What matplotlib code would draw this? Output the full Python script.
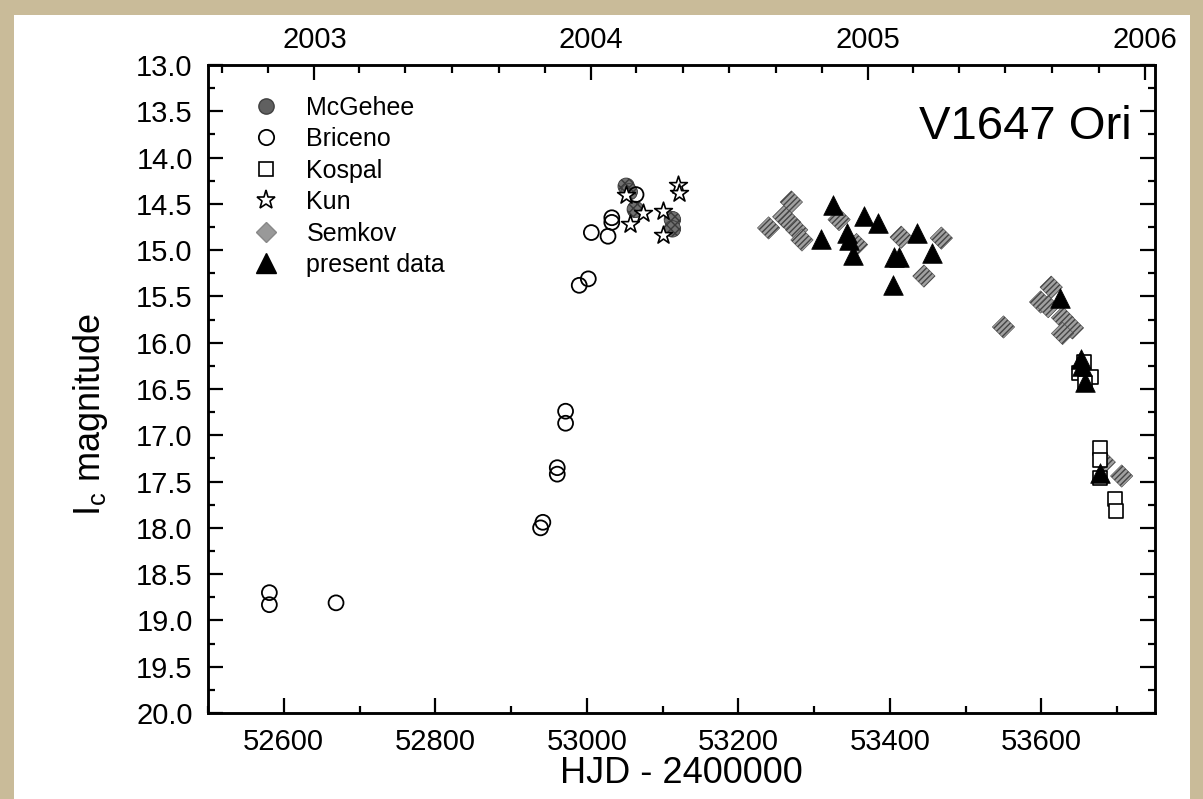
import matplotlib
matplotlib.use("Agg")
import matplotlib.pyplot as plt
from matplotlib.patches import Rectangle
from matplotlib.lines import Line2D
from datetime import date

plt.rcParams['font.family'] = ['Liberation Sans', 'DejaVu Sans']
plt.rcParams['hatch.linewidth'] = 1.0

# HJD - 2400000, I_c magnitude
mcgehee_t = [53052, 53056, 53064, 53113, 53113]
mcgehee_m = [14.31, 14.37, 14.56, 14.67, 14.77]

briceno_t = [52581, 52581, 52669, 52939, 52942, 52961, 52961, 52972, 52972,
             52990, 53002, 53006, 53028, 53033, 53033, 53065]
briceno_m = [18.70, 18.83, 18.81, 18.00, 17.94, 17.35, 17.42, 16.74, 16.87,
             15.38, 15.31, 14.81, 14.85, 14.65, 14.70, 14.40]

kospal_t = [53656, 53650, 53666, 53658, 53677, 53678, 53678, 53697, 53698]
kospal_m = [16.21, 16.33, 16.37, 16.44, 17.14, 17.27, 17.46, 17.69, 17.82]

kun_t = [53052, 53074, 53057, 53101, 53100, 53121, 53122]
kun_m = [14.40, 14.60, 14.72, 14.58, 14.84, 14.30, 14.38]

semkov_t = [53240, 53270, 53260, 53268, 53277, 53284, 53333, 53356, 53415,
            53468, 53445, 53550, 53613, 53599, 53609, 53628, 53641, 53628,
            53683, 53706]
semkov_m = [14.76, 14.48, 14.64, 14.70, 14.78, 14.89, 14.67, 14.94, 14.86,
            14.87, 15.28, 15.83, 15.40, 15.56, 15.61, 15.73, 15.84, 15.90,
            17.29, 17.44]

present_t = [53325, 53309, 53366, 53385, 53343, 53346, 53352, 53405, 53412,
             53436, 53456, 53404, 53624, 53652, 53654, 53657, 53678]
present_m = [14.51, 14.88, 14.63, 14.71, 14.81, 14.89, 15.05, 15.07, 15.07,
             14.81, 15.03, 15.38, 15.52, 16.18, 16.25, 16.42, 17.41]

years = [2003, 2004, 2005, 2006]


def hjd(y, m, d=1):
    # HJD - 2400000 at 0h of the given date
    return (date(y, m, d) - date(1858, 11, 17)).days + 0.5


fig = plt.figure(figsize=(12.03, 7.99), dpi=100, facecolor='#c9bb99')
fig.patches.append(Rectangle((14 / 1203, 0), (1190 - 14) / 1203, 784 / 799,
                             transform=fig.transFigure, facecolor='white',
                             edgecolor='none', zorder=-10))

ax = fig.add_axes([208 / 1203, 86 / 799, 947 / 1203, 648 / 799])

ax.scatter(mcgehee_t, mcgehee_m, s=140, marker='o', facecolor='#707070',
           edgecolor='#3a3a3a', hatch='xxxx', linewidths=0.6, zorder=2)
ax.scatter(briceno_t, briceno_m, s=115, marker='o', facecolor='none',
           edgecolor='black', linewidths=1.3, zorder=3)
ax.scatter(kun_t, kun_m, s=180, marker='*', facecolor='white',
           edgecolor='black', linewidths=1.2, zorder=4)
ax.scatter(semkov_t, semkov_m, s=130, marker='D', facecolor='#a0a0a0',
           edgecolor='#444444', hatch='//////', linewidths=0.4, zorder=4)
ax.scatter(kospal_t, kospal_m, s=115, marker='s', facecolor='white',
           edgecolor='black', linewidths=1.2, zorder=5)
ax.scatter(present_t, present_m, s=200, marker='^', facecolor='black',
           edgecolor='black', linewidths=0.5, zorder=6)

ax.set_xlim(52500, 53750)
ax.set_ylim(20.0, 13.0)
ax.set_xticks(range(52600, 53601, 200))
ax.set_xticks(range(52500, 53751, 100), minor=True)
ax.set_yticks([13 + 0.5 * i for i in range(15)])
ax.set_yticks([13 + 0.25 * i for i in range(29)], minor=True)
ax.set_yticklabels(['%.1f' % (13 + 0.5 * i) for i in range(15)])

ax.tick_params(which='both', direction='in', top=False, right=True,
               labelsize=21, width=1.6)
ax.tick_params(axis='x', pad=11)
ax.tick_params(axis='y', pad=11)
ax.tick_params(which='major', length=11)
ax.tick_params(which='minor', length=5)
for s in ax.spines.values():
    s.set_linewidth(1.8)

ax.set_xlabel('HJD - 2400000', fontsize=26, labelpad=0)
ax.set_ylabel('I$_\\mathregular{c}$ magnitude', fontsize=26)
ax.yaxis.set_label_coords(-0.104, 0.46)

# top axis with calendar years
top = ax.twiny()
top.set_xlim(ax.get_xlim())
top.set_xticks([hjd(y, 1) for y in years])
top.set_xticklabels([str(y) for y in years])
minor_top = [hjd(y, m) for y in range(2002, 2007) for m in range(1, 13, 2)]
minor_top = [t for t in minor_top if 52500 < t < 53750]
top.set_xticks(minor_top, minor=True)
top.tick_params(which='both', direction='in', labelsize=21, width=1.6, pad=8)
top.tick_params(which='major', length=11)
top.tick_params(which='minor', length=6)
for s in top.spines.values():
    s.set_linewidth(1.8)

ax.text(0.975, 0.905, 'V1647 Ori', transform=ax.transAxes, ha='right',
        va='center', fontsize=34)

handles = [
    Line2D([], [], ls='none', marker='o', ms=11, mfc='#606060', mec='#404040'),
    Line2D([], [], ls='none', marker='o', ms=11, mfc='none', mec='black', mew=1.3),
    Line2D([], [], ls='none', marker='s', ms=10, mfc='none', mec='black', mew=1.2),
    Line2D([], [], ls='none', marker='*', ms=14, mfc='none', mec='black', mew=1.2),
    Line2D([], [], ls='none', marker='D', ms=10, mfc='#999999', mec='#888888'),
    Line2D([], [], ls='none', marker='^', ms=14, mfc='black', mec='black'),
]
labels = ['McGehee', 'Briceno', 'Kospal', 'Kun', 'Semkov', 'present data']
ax.legend(handles, labels, loc='upper left', bbox_to_anchor=(0.03, 0.968),
          frameon=False, fontsize=18, handletextpad=0.8, labelspacing=0.3,
          borderaxespad=0, handlelength=1.6)

fig.savefig('out.png', dpi=100, facecolor=fig.get_facecolor())
